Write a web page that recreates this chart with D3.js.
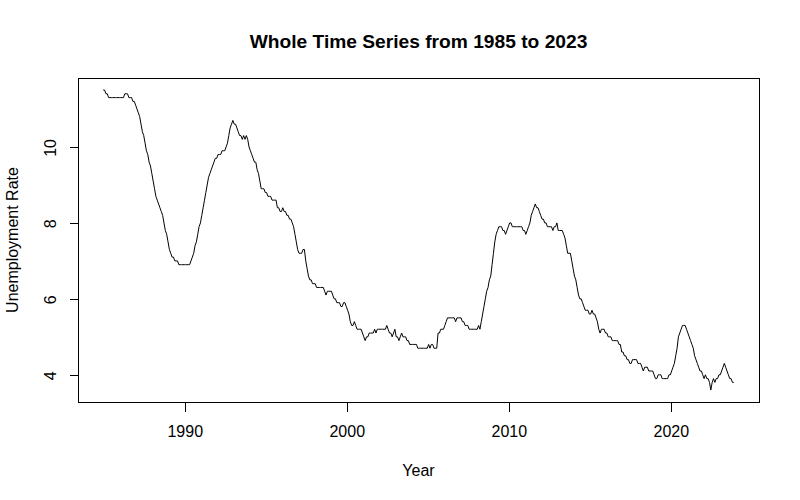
<!DOCTYPE html>
<html>
<head>
<meta charset="utf-8">
<script src="https://cdn.jsdelivr.net/npm/d3@7"></script>
<style>
  body { margin: 0; background: #fff; }
  text { font-family: "Liberation Sans", Arial, sans-serif; fill: #000; }
</style>
</head>
<body>
<div class="chart"></div>
<script>
// monthly unemployment rate, Jan 1985 .. Dec 2023 (one row per year)
const startYear = 1985;
const rates = [
  11.5, 11.5, 11.4, 11.4, 11.3, 11.3, 11.3, 11.3, 11.3, 11.3, 11.3, 11.3,
  11.3, 11.3, 11.3, 11.3, 11.4, 11.4, 11.4, 11.3, 11.3, 11.3, 11.2, 11.2,
  11.1, 11.0, 10.9, 10.8, 10.6, 10.4, 10.3, 10.1, 9.9, 9.8, 9.6, 9.5,
  9.3, 9.1, 8.9, 8.7, 8.6, 8.5, 8.4, 8.3, 8.2, 8.0, 7.8, 7.7,
  7.5, 7.3, 7.2, 7.1, 7.1, 7.0, 7.0, 7.0, 6.9, 6.9, 6.9, 6.9,
  6.9, 6.9, 6.9, 6.9, 6.9, 7.0, 7.1, 7.2, 7.4, 7.5, 7.7, 7.9,
  8.0, 8.2, 8.4, 8.6, 8.8, 9.0, 9.2, 9.3, 9.4, 9.5, 9.6, 9.7,
  9.7, 9.8, 9.8, 9.8, 9.9, 9.9, 9.9, 10.0, 10.1, 10.3, 10.5, 10.6,
  10.7, 10.6, 10.6, 10.5, 10.4, 10.3, 10.3, 10.2, 10.3, 10.2, 10.3, 10.2,
  10.0, 9.9, 9.8, 9.7, 9.6, 9.6, 9.4, 9.3, 9.1, 8.9, 8.9, 8.9,
  8.8, 8.8, 8.7, 8.7, 8.7, 8.6, 8.6, 8.6, 8.6, 8.4, 8.4, 8.3,
  8.3, 8.4, 8.3, 8.3, 8.2, 8.2, 8.1, 8.1, 8.0, 7.9, 7.7, 7.5,
  7.3, 7.2, 7.2, 7.2, 7.3, 7.3, 7.0, 6.8, 6.6, 6.5, 6.5, 6.4,
  6.4, 6.4, 6.3, 6.3, 6.3, 6.3, 6.3, 6.3, 6.2, 6.1, 6.2, 6.2,
  6.2, 6.2, 6.1, 6.0, 6.0, 5.9, 5.9, 5.9, 5.8, 5.8, 5.9, 5.9,
  5.8, 5.7, 5.6, 5.4, 5.3, 5.3, 5.4, 5.3, 5.2, 5.2, 5.2, 5.2,
  5.1, 5.0, 4.9, 5.0, 5.0, 5.1, 5.1, 5.1, 5.1, 5.2, 5.1, 5.2,
  5.2, 5.2, 5.2, 5.2, 5.2, 5.2, 5.3, 5.2, 5.1, 5.1, 5.0, 5.1,
  5.2, 5.0, 5.0, 4.9, 5.0, 5.1, 5.0, 5.0, 5.0, 4.9, 4.9, 4.8,
  4.8, 4.8, 4.8, 4.8, 4.8, 4.7, 4.7, 4.7, 4.7, 4.7, 4.7, 4.7,
  4.7, 4.8, 4.7, 4.8, 4.8, 4.7, 4.7, 4.7, 5.1, 5.1, 5.2, 5.2,
  5.2, 5.3, 5.4, 5.5, 5.5, 5.5, 5.5, 5.5, 5.5, 5.4, 5.5, 5.5,
  5.5, 5.5, 5.4, 5.4, 5.3, 5.3, 5.3, 5.2, 5.2, 5.2, 5.2, 5.2,
  5.2, 5.2, 5.3, 5.2, 5.4, 5.6, 5.8, 6.0, 6.2, 6.3, 6.5, 6.6,
  6.9, 7.2, 7.5, 7.7, 7.8, 7.9, 7.9, 7.9, 7.8, 7.8, 7.7, 7.8,
  7.9, 8.0, 8.0, 7.9, 7.9, 7.9, 7.9, 7.9, 7.9, 7.9, 7.9, 7.8,
  7.8, 7.7, 7.8, 7.9, 8.0, 8.2, 8.3, 8.4, 8.5, 8.4, 8.4, 8.3,
  8.2, 8.1, 8.1, 8.0, 8.0, 7.9, 7.9, 7.9, 7.9, 7.8, 7.9, 7.9,
  8.0, 7.8, 7.8, 7.8, 7.8, 7.7, 7.6, 7.4, 7.2, 7.2, 7.2, 7.0,
  6.8, 6.6, 6.5, 6.3, 6.1, 6.0, 6.0, 5.9, 5.8, 5.7, 5.7, 5.7,
  5.6, 5.6, 5.7, 5.6, 5.6, 5.5, 5.4, 5.2, 5.1, 5.2, 5.2, 5.2,
  5.1, 5.1, 5.0, 5.0, 5.0, 4.9, 4.9, 4.9, 4.9, 4.9, 4.8, 4.8,
  4.6, 4.6, 4.5, 4.5, 4.4, 4.4, 4.3, 4.3, 4.4, 4.4, 4.4, 4.4,
  4.3, 4.3, 4.3, 4.2, 4.1, 4.2, 4.2, 4.2, 4.1, 4.1, 4.1, 4.1,
  4.0, 3.9, 3.9, 4.0, 4.0, 4.0, 3.9, 3.9, 3.9, 3.9, 3.9, 4.0,
  4.0, 4.1, 4.2, 4.3, 4.5, 4.7, 5.0, 5.1, 5.2, 5.3, 5.3, 5.3,
  5.2, 5.1, 5.0, 4.9, 4.8, 4.7, 4.5, 4.4, 4.3, 4.2, 4.1, 4.1,
  4.0, 3.9, 4.0, 3.9, 3.9, 3.8, 3.6, 3.8, 3.9, 3.8, 3.9, 3.9,
  4.0, 4.0, 4.1, 4.2, 4.3, 4.2, 4.1, 4.0, 3.9, 3.9, 3.8, 3.8
];
const xTicks = [1990, 2000, 2010, 2020];
const yTicks = [4, 6, 8, 10];
const title = "Whole Time Series from 1985 to 2023";
const xLabel = "Year";
const yLabel = "Unemployment Rate";

function create_plot(series){
	const width = 800;
	const height = 500;
	const left = 78, right = 759, top = 78, bottom = 402;

	const svg = d3.select('.chart')
		.append('svg')
		.attr('width', width)
		.attr('height', height)

	// R pads each axis range by 4%
	const pad = function(ext) {
		const d = (ext[1] - ext[0]) * 0.04;
		return [ext[0] - d, ext[1] + d];
	}
	const x = d3.scaleLinear()
		.domain(pad(d3.extent(series, d => d.t)))
		.range([left, right])
	const y = d3.scaleLinear()
		.domain(pad(d3.extent(series, d => d.v)))
		.range([bottom, top])

	const line = d3.line()
		.x(d => x(d.t))
		.y(d => y(d.v))

	svg.append("path")
		.datum(series)
		.attr("d", line)
		.attr("fill", "none")
		.attr("stroke", "#000")
		.attr("stroke-width", 1)
		.attr("stroke-linejoin", "round")

	// box
	svg.append("rect")
		.attr("x", left + 0.5)
		.attr("y", top + 0.5)
		.attr("width", right - left)
		.attr("height", bottom - top)
		.attr("fill", "none")
		.attr("stroke", "#000")
		.attr("shape-rendering", "crispEdges")

	const xAxis = svg.append("g")
		.attr("transform", `translate(0.5,${bottom + 0.5})`)
		.call(d3.axisBottom(x).tickValues(xTicks).tickFormat(d3.format("d"))
			.tickSize(9).tickPadding(14.6))
	xAxis.select(".domain").remove()
	xAxis.selectAll("line").attr("shape-rendering", "crispEdges")
	xAxis.selectAll("text")
		.attr("font-size", "16px")
		.attr("font-family", "Liberation Sans, Arial, sans-serif")

	const yAxis = svg.append("g")
		.attr("transform", `translate(${left + 0.5},0.5)`)
		.call(d3.axisLeft(y).tickValues(yTicks).tickSize(9))
	yAxis.select(".domain").remove()
	yAxis.selectAll("line").attr("shape-rendering", "crispEdges")
	yAxis.selectAll("text")
		.attr("x", null)
		.attr("dy", null)
		.attr("text-anchor", "middle")
		.attr("transform", `translate(${55 - left},0) rotate(-90)`)
		.attr("font-size", "16px")
		.attr("font-family", "Liberation Sans, Arial, sans-serif")

	svg.append("text")
		.attr("x", (left + right) / 2)
		.attr("y", 48)
		.attr("text-anchor", "middle")
		.attr("font-size", "19.2px")
		.attr("font-weight", "bold")
		.text(title)

	svg.append("text")
		.attr("x", (left + right) / 2)
		.attr("y", 476)
		.attr("text-anchor", "middle")
		.attr("font-size", "16px")
		.text(xLabel)

	svg.append("text")
		.attr("transform", `translate(18,${(top + bottom) / 2}) rotate(-90)`)
		.attr("text-anchor", "middle")
		.attr("font-size", "16px")
		.text(yLabel)
}

function main(){
	const series = rates.map(function(v, i) {
		return {t: startYear + i / 12, v: v};
	})
	create_plot(series)
}

main();
</script>
</body>
</html>
